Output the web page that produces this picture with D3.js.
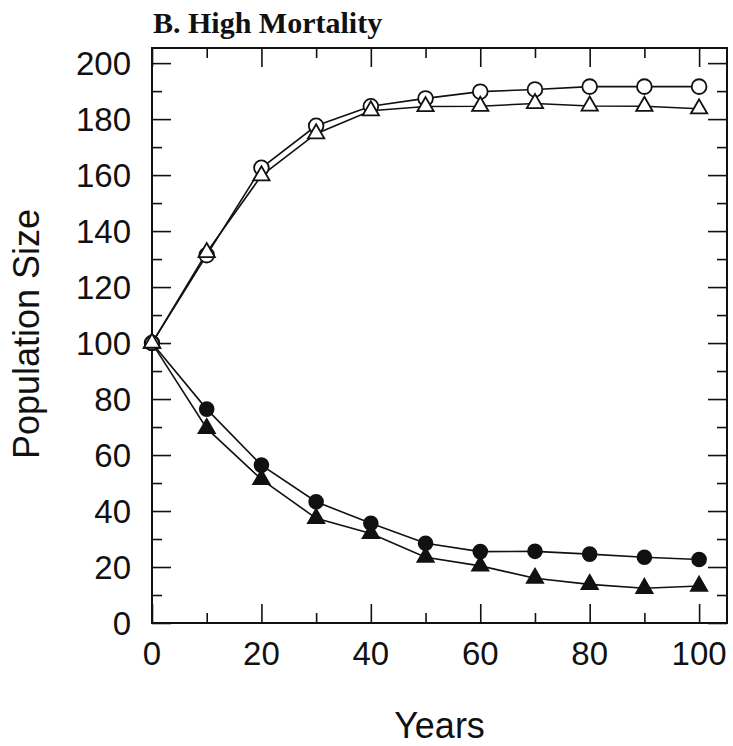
<!DOCTYPE html>
<html lang="en">
<head>
<meta charset="UTF-8">
<title>B. High Mortality</title>
<script src="https://d3js.org/d3.v7.min.js"></script>
<style>
  body { margin: 0; background: #fff; }
  svg { display: block; }
  .tick-label { font-family: "Liberation Sans", Arial, sans-serif; font-size: 33px; fill: #111; }
  .axis-title { font-family: "Liberation Sans", Arial, sans-serif; font-size: 36px; fill: #111; }
</style>
</head>
<body>
<div id="chart"></div>
<script>
// data
const years = [0, 10, 20, 30, 40, 50, 60, 70, 80, 90, 100];
const openCircle   = [100, 131.4, 162.6, 177.6, 184.6, 187.4, 189.8, 190.6, 191.6, 191.6, 191.6];
const openTriangle = [100, 132.4, 159.8, 174.8, 183, 184.5, 184.6, 185.6, 184.7, 184.6, 183.7];
const fillCircle   = [100, 76.4, 56.4, 43.3, 35.6, 28.5, 25.5, 25.6, 24.6, 23.5, 22.7];
const fillTriangle = [100, 69.5, 51.3, 37.4, 32, 23.5, 20.4, 16, 13.8, 12.4, 13.2];
const yTicks = [0, 20, 40, 60, 80, 100, 120, 140, 160, 180, 200];
const xTicks = [0, 20, 40, 60, 80, 100];

const width = 733, height = 746;
const margin = {top: 48, right: 6, bottom: 123, left: 152};

const svg = d3.select("#chart").append("svg")
  .attr("width", width)
  .attr("height", height);

const x = d3.scaleLinear()
  .domain([0, 105.1])
  .range([margin.left, width - margin.right]);

const y = d3.scaleLinear()
  .domain([0, 205.4])
  .range([height - margin.bottom, margin.top]);

// frame
svg.append("rect")
  .attr("x", x(0)).attr("y", y(205.4))
  .attr("width", x(105.1) - x(0))
  .attr("height", y(0) - y(205.4))
  .attr("fill", "none")
  .attr("stroke", "#111")
  .attr("stroke-width", 2);

// inward ticks on all four sides (major 20, minor 10)
const minorY = d3.range(10, 205, 20);
const minorX = d3.range(10, 105, 20);
function addAxis(axisFn, scale, transform, ticks, size) {
  svg.append("g")
    .attr("transform", transform)
    .call(axisFn(scale).tickValues(ticks).tickSize(size).tickFormat(""))
    .call(g => g.select(".domain").remove())
    .call(g => g.selectAll("line").attr("stroke", "#111").attr("stroke-width", 1.6));
}
const leftT = `translate(${x(0)},0)`, rightT = `translate(${x(105.1)},0)`;
const bottomT = `translate(0,${y(0)})`, topT = `translate(0,${y(205.4)})`;
addAxis(d3.axisLeft, y, leftT, yTicks, -19);
addAxis(d3.axisLeft, y, leftT, minorY, -10);
addAxis(d3.axisRight, y, rightT, yTicks, -19);
addAxis(d3.axisRight, y, rightT, minorY, -10);
addAxis(d3.axisBottom, x, bottomT, xTicks, -19);
addAxis(d3.axisBottom, x, bottomT, minorX, -10);
addAxis(d3.axisTop, x, topT, xTicks, -19);
addAxis(d3.axisTop, x, topT, minorX, -10);

// tick labels
svg.append("g").selectAll("text")
  .data(yTicks).join("text")
  .attr("class", "tick-label")
  .attr("x", 131)
  .attr("y", d => y(d))
  .attr("dy", "0.36em")
  .attr("text-anchor", "end")
  .text(d => d);

svg.append("g").selectAll("text")
  .data(xTicks).join("text")
  .attr("class", "tick-label")
  .attr("x", d => x(d))
  .attr("y", 665)
  .attr("text-anchor", "middle")
  .text(d => d);

// axis titles
svg.append("text")
  .attr("class", "axis-title")
  .attr("x", (x(0) + x(105.1)) / 2)
  .attr("y", 738)
  .attr("text-anchor", "middle")
  .text("Years");

svg.append("text")
  .attr("class", "axis-title")
  .attr("transform", `translate(39,334) rotate(-90)`)
  .attr("text-anchor", "middle")
  .text("Population Size");

svg.append("text")
  .attr("x", 153)
  .attr("y", 33)
  .attr("font-family", "'Liberation Serif', 'DejaVu Serif', serif")
  .attr("font-weight", "bold")
  .attr("font-size", 30)
  .attr("fill", "#111")
  .text("B. High Mortality");

// series
const series = [
  {values: openCircle, shape: d3.symbolCircle, size: 170, fill: "#fff"},
  {values: openTriangle, shape: d3.symbolTriangle, size: 115, fill: "#fff"},
  {values: fillCircle, shape: d3.symbolCircle, size: 150, fill: "#111"},
  {values: fillTriangle, shape: d3.symbolTriangle, size: 115, fill: "#111"}
];

const line = d3.line()
  .x(d => x(d.year))
  .y(d => y(d.value));

series.forEach(s => {
  const pts = years.map((yr, i) => ({year: yr, value: s.values[i]}));
  svg.append("path")
    .datum(pts)
    .attr("fill", "none")
    .attr("stroke", "#111")
    .attr("stroke-width", 1.6)
    .attr("d", line);
});

series.forEach(s => {
  const pts = years.map((yr, i) => ({year: yr, value: s.values[i]}));
  svg.append("g").selectAll("path")
    .data(pts).join("path")
    .attr("transform", d => `translate(${x(d.year)},${y(d.value)})`)
    .attr("d", d3.symbol().type(s.shape).size(s.size))
    .attr("fill", d => d.year === 0 ? "#fff" : s.fill)
    .attr("stroke", "#111")
    .attr("stroke-width", 1.8);
});
</script>
</body>
</html>
